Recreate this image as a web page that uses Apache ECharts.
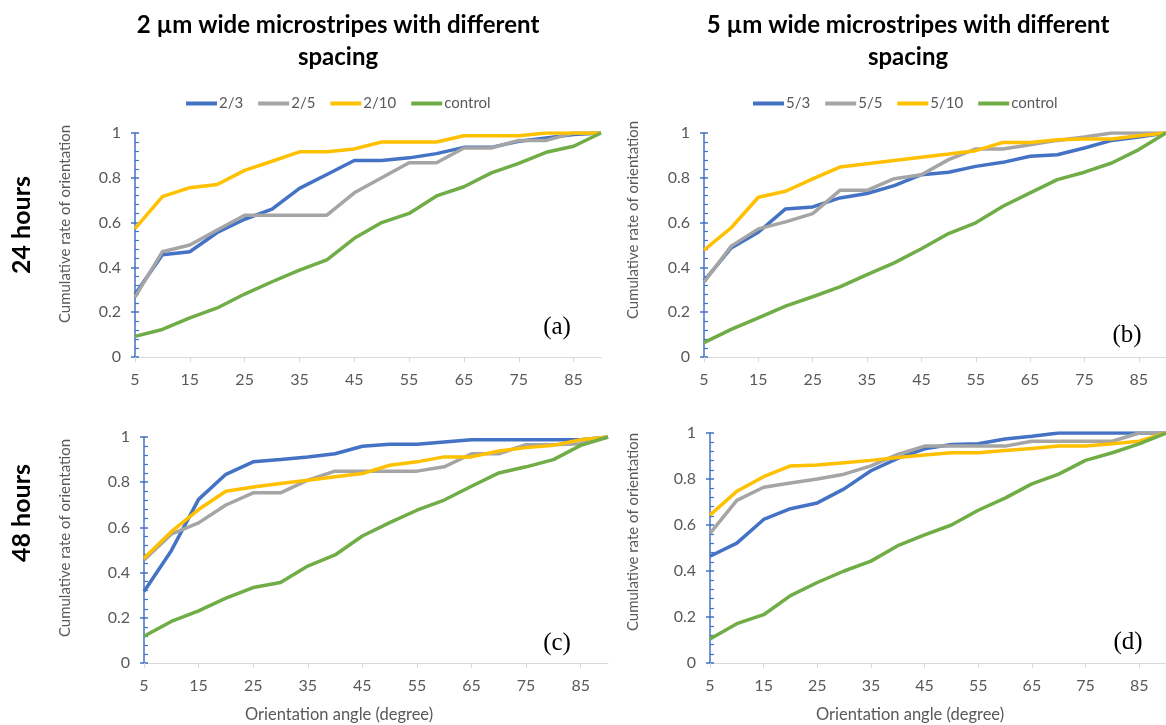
<!DOCTYPE html>
<html>
<head>
<meta charset="utf-8">
<title>Cumulative rate of orientation</title>
<script src="https://cdn.jsdelivr.net/npm/echarts@6/dist/echarts.min.js"></script>
<style>
html, body { margin: 0; padding: 0; background: #fff; }
#main { width: 1166px; height: 725px; }
</style>
</head>
<body>
<div id="main"></div>
<script>
/**
 * 4 small line charts, 2 um / 5 um stripes, 24 h / 48 h
 */
var angles = ['5', '10', '15', '20', '25', '30', '35', '40', '45', '50', '55', '60', '65', '70', '75', '80', '85', '90'];
var names2 = ['2/3', '2/5', '2/10', 'control'];
var names5 = ['5/3', '5/5', '5/10', 'control'];
var colors = ['#4472C4', '#A5A5A5', '#FFC000', '#70AD47'];
var yTicks = [0, 0.2, 0.4, 0.6, 0.8, 1];

// (a) 2 um, 24 hours
var a23 = [0.28, 0.456, 0.47, 0.556, 0.615, 0.66, 0.753, 0.815, 0.877, 0.877, 0.889, 0.908, 0.936, 0.936, 0.963, 0.978, 0.993, 1];
var a25 = [0.267, 0.47, 0.5, 0.567, 0.633, 0.633, 0.633, 0.633, 0.733, 0.8, 0.867, 0.867, 0.933, 0.933, 0.967, 0.967, 1, 1];
var a210 = [0.573, 0.716, 0.756, 0.77, 0.833, 0.874, 0.916, 0.916, 0.929, 0.96, 0.96, 0.96, 0.988, 0.988, 0.988, 1, 1, 1];
var aCtrl = [0.092, 0.123, 0.175, 0.219, 0.281, 0.336, 0.388, 0.434, 0.53, 0.6, 0.641, 0.719, 0.76, 0.822, 0.864, 0.914, 0.941, 1];

// (b) 5 um, 24 hours
var b53 = [0.339, 0.487, 0.557, 0.661, 0.67, 0.71, 0.73, 0.765, 0.814, 0.825, 0.851, 0.869, 0.896, 0.903, 0.933, 0.967, 0.982, 1];
var b55 = [0.334, 0.495, 0.572, 0.603, 0.64, 0.744, 0.744, 0.796, 0.814, 0.881, 0.929, 0.929, 0.948, 0.967, 0.982, 1, 1, 1];
var b510 = [0.477, 0.577, 0.713, 0.74, 0.795, 0.848, 0.863, 0.877, 0.892, 0.906, 0.921, 0.958, 0.958, 0.97, 0.973, 0.973, 0.988, 1];
var bCtrl = [0.064, 0.123, 0.175, 0.227, 0.269, 0.313, 0.368, 0.42, 0.483, 0.551, 0.599, 0.673, 0.733, 0.792, 0.825, 0.866, 0.926, 1];

// (c) 2 um, 48 hours
var c23 = [0.316, 0.497, 0.724, 0.835, 0.89, 0.9, 0.912, 0.926, 0.959, 0.968, 0.968, 0.978, 0.988, 0.988, 0.988, 0.988, 0.988, 1];
var c25 = [0.456, 0.57, 0.62, 0.699, 0.753, 0.753, 0.809, 0.849, 0.849, 0.849, 0.849, 0.868, 0.926, 0.926, 0.966, 0.966, 0.97, 1];
var c210 = [0.463, 0.581, 0.679, 0.76, 0.779, 0.794, 0.809, 0.824, 0.838, 0.875, 0.89, 0.912, 0.912, 0.938, 0.953, 0.963, 0.988, 1];
var cCtrl = [0.118, 0.184, 0.231, 0.287, 0.334, 0.356, 0.429, 0.478, 0.562, 0.621, 0.676, 0.721, 0.782, 0.841, 0.868, 0.9, 0.963, 1];

// (d) 5 um, 48 hours
var d53 = [0.464, 0.521, 0.624, 0.671, 0.696, 0.757, 0.836, 0.89, 0.931, 0.95, 0.953, 0.974, 0.986, 1, 1, 1, 1, 1];
var d55 = [0.564, 0.707, 0.764, 0.783, 0.8, 0.821, 0.857, 0.907, 0.943, 0.943, 0.943, 0.943, 0.964, 0.964, 0.964, 0.964, 1, 1];
var d510 = [0.643, 0.747, 0.81, 0.857, 0.861, 0.871, 0.881, 0.893, 0.904, 0.914, 0.914, 0.924, 0.933, 0.943, 0.943, 0.953, 0.964, 1];
var dCtrl = [0.104, 0.171, 0.21, 0.293, 0.35, 0.4, 0.443, 0.51, 0.557, 0.6, 0.664, 0.717, 0.779, 0.821, 0.881, 0.914, 0.953, 1];

var panels = [
    { grid: { left: 135, top: 133, width: 466, height: 224 }, names: names2, data: [a23, a25, a210, aCtrl] },
    { grid: { left: 704, top: 133, width: 466, height: 224 }, names: names5, data: [b53, b55, b510, bCtrl] },
    { grid: { left: 144, top: 437, width: 464, height: 226 }, names: names2, data: [c23, c25, c210, cCtrl] },
    { grid: { left: 710, top: 433, width: 466, height: 230 }, names: names5, data: [d53, d55, d510, dCtrl] }
];

var sansFont = 'Lato';
var grayText = '#595959';

var grids = [], xAxes = [], yAxes = [], series = [];

panels.forEach(function (p, i) {
    grids.push(p.grid);
    xAxes.push({
        gridIndex: i,
        type: 'category',
        data: angles,
        boundaryGap: false,
        axisLine: { lineStyle: { color: '#D9D9D9', width: 1 } },
        axisTick: { show: true, length: 5, lineStyle: { color: '#D9D9D9' } },
        axisLabel: { interval: 1, color: grayText, fontSize: 16, fontFamily: sansFont, margin: 15 },
        splitLine: { show: false }
    });
    // main y axis: labels, inside major + minor ticks
    yAxes.push({
        gridIndex: i,
        type: 'value',
        min: yTicks[0],
        max: yTicks[yTicks.length - 1],
        interval: 0.2,
        axisLine: { show: true, lineStyle: { color: '#4472C4', width: 1.5 } },
        axisTick: { show: true, inside: true, length: 4, lineStyle: { color: '#4472C4', width: 1.5 } },
        minorTick: { show: true, splitNumber: 5, length: 4, lineStyle: { color: '#4472C4', width: 1.2 } },
        axisLabel: { color: grayText, fontSize: 16, fontFamily: sansFont, margin: 14 },
        splitLine: { show: false }
    });
    // second y axis only for the outside half of the major ticks
    yAxes.push({
        gridIndex: i,
        type: 'value',
        position: 'left',
        min: yTicks[0],
        max: yTicks[yTicks.length - 1],
        interval: 0.2,
        axisLine: { show: false },
        axisTick: { show: true, inside: false, length: 4, lineStyle: { color: '#4472C4', width: 1.5 } },
        axisLabel: { show: false },
        splitLine: { show: false }
    });
    p.data.forEach(function (vals, k) {
        series.push({
            name: p.names[k],
            type: 'line',
            xAxisIndex: i,
            yAxisIndex: i * 2,
            data: vals,
            symbol: 'none',
            color: colors[k],
            lineStyle: { width: 3.5, color: colors[k] },
            z: 2 + k
        });
    });
});

function txt(x, y, s, font, color, rot) {
    return {
        type: 'text', x: x, y: y, rotation: rot || 0,
        style: {
            text: s, fill: color, font: font,
            textAlign: 'center', textVerticalAlign: 'middle', lineHeight: 32
        }
    };
}

var titleFont = 'bold 24px ' + sansFont;
var rowFont = 'bold 25px ' + sansFont;
var yNameFont = '15px ' + sansFont;
var xNameFont = '16.5px ' + sansFont;
var panelFont = '25px "Liberation Serif"';
var yName = 'Cumulative rate of orientation';
var xName = 'Orientation angle (degree)';

var legendBase = {
    top: 91,
    icon: 'rect',
    itemWidth: 31,
    itemHeight: 4,
    itemGap: 15,
    selectedMode: false,
    textStyle: { color: grayText, fontSize: 15, fontFamily: sansFont, padding: [0, 0, 0, -3] }
};

var option = {
    animation: false,
    backgroundColor: '#fff',
    legend: [
        Object.assign({ left: 181, data: names2 }, legendBase),
        Object.assign({ left: 748, data: names5 }, legendBase)
    ],
    grid: grids,
    xAxis: xAxes,
    yAxis: yAxes,
    series: series,
    graphic: [
        txt(338, 41, '2 µm wide microstripes with different\nspacing', titleFont, '#000'),
        txt(908, 41, '5 µm wide microstripes with different\nspacing', titleFont, '#000'),
        txt(22, 225, '24 hours', rowFont, '#000', Math.PI / 2),
        txt(22, 513, '48 hours', rowFont, '#000', Math.PI / 2),
        txt(65, 224, yName, yNameFont, grayText, Math.PI / 2),
        txt(633, 220, yName, yNameFont, grayText, Math.PI / 2),
        txt(65, 538, yName, yNameFont, grayText, Math.PI / 2),
        txt(633, 532, yName, yNameFont, grayText, Math.PI / 2),
        txt(339, 715, xName, xNameFont, grayText),
        txt(910, 715, xName, xNameFont, grayText),
        txt(557, 327, '(a)', panelFont, '#000'),
        txt(1127, 335, '(b)', panelFont, '#000'),
        txt(557, 643, '(c)', panelFont, '#000'),
        txt(1128, 642, '(d)', panelFont, '#000')
    ]
};

var myChart = echarts.init(document.getElementById('main'));
myChart.setOption(option);
</script>
</body>
</html>
